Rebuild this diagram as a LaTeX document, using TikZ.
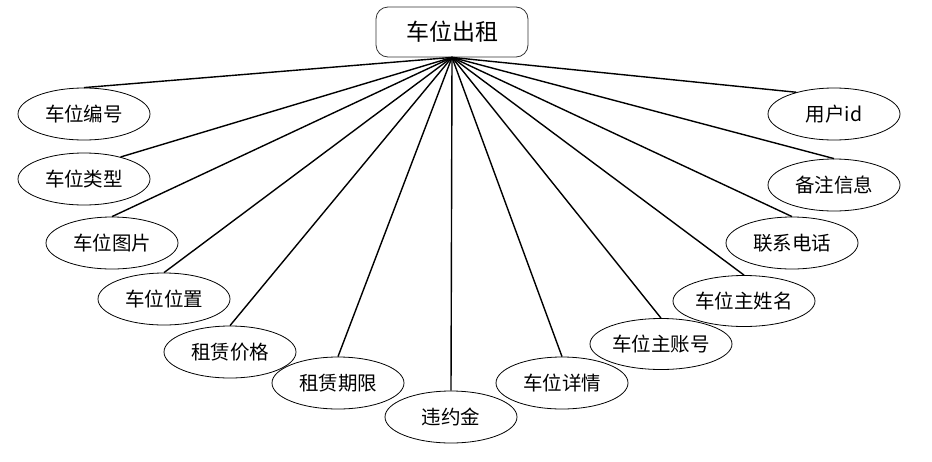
\documentclass[tikz,border=0pt]{standalone}
\usepackage{fontspec}
\newfontfamily\cjk{Noto Sans CJK SC}
\usetikzlibrary{shapes.geometric}
\begin{document}
\begin{tikzpicture}[x=1pt,y=-1pt,
  attr/.style={ellipse,draw,line width=0.8pt,minimum width=132pt,minimum height=52pt,inner sep=0pt,font=\cjk\fontsize{19.5}{19.5}\selectfont},
  wide/.style={minimum width=142pt,minimum height=51pt},
  entity/.style={draw=black!80,line width=0.8pt,rounded corners=12pt,minimum width=152pt,minimum height=50pt,inner sep=0pt,font=\cjk\fontsize{23}{23}\selectfont},
  link/.style={line width=1.4pt}]
\useasboundingbox (0,0) rectangle (932,461);
\node[entity] (top) at (452,32) {车位出租};
\node[attr] (a1) at (84,114) {车位编号};
\node[attr] (a2) at (84,179) {车位类型};
\node[attr] (a3) at (112,243) {车位图片};
\node[attr] (a4) at (164,299) {车位位置};
\node[attr] (a5) at (230,352) {租赁价格};
\node[attr] (a6) at (338,383) {租赁期限};
\node[attr] (a7) at (451,417) {违约金};
\node[attr] (a8) at (562,383) {车位详情};
\node[attr,wide] (a9) at (661,344) {车位主账号};
\node[attr,wide] (a10) at (744,301) {车位主姓名};
\node[attr] (a11) at (792,243) {联系电话};
\node[attr] (a12) at (834,185) {备注信息};
\node[attr] (a13) at (834,114) {用户id};
\draw[link] (top.south) -- (a1.north);
\draw[link] (top.south) -- (a2.31);
\draw[link] (top.south) -- (a3.north);
\draw[link] (top.south) -- (a4.north);
\draw[link] (top.south) -- (a5.north);
\draw[link] (top.south) -- (a6.north);
\draw[link] (top.south) -- (a7.north);
\draw[link] (top.south) -- (a8.north);
\draw[link] (top.south) -- (a9.north);
\draw[link] (top.south) -- (a10.north);
\draw[link] (top.south) -- (a11.north);
\draw[link] (top.south) -- (a12.north);
\draw[link] (top.south) -- (a13.150);
\end{tikzpicture}
\end{document}
